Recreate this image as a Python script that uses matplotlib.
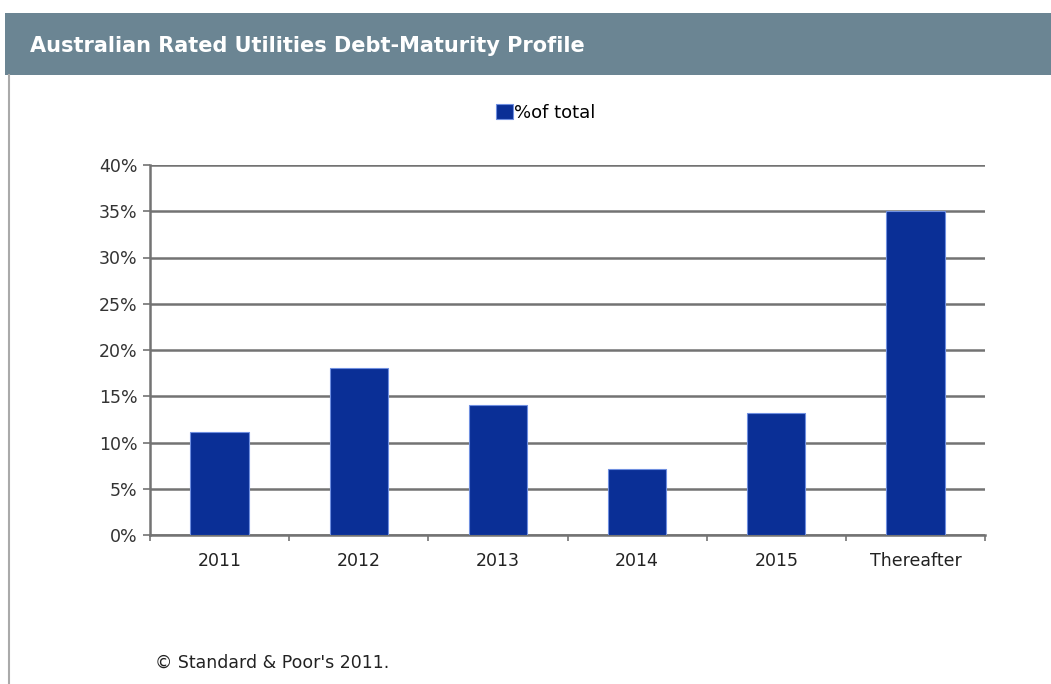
import matplotlib.pyplot as plt
from matplotlib.patches import Rectangle
import numpy as np

# --- Datos ---
categorias = ["2011", "2012", "2013", "2014", "2015", "Thereafter"]
pct_total = [11.1, 18.1, 14.1, 7.1, 13.2, 35.0]
ticks_y = [0, 5, 10, 15, 20, 25, 30, 35, 40]

W, H = 1051, 684
fuente = "DejaVu Sans"
fig = plt.figure(figsize=(W / 100, H / 100), dpi=100)
fig.patch.set_facecolor("white")

# --- Cabecera gris ---
fig.patches.append(Rectangle((5 / W, 1 - 75 / H), 1, 62 / H, transform=fig.transFigure,
                             facecolor="#6b8593", edgecolor="none", zorder=0))
fig.text(30 / W, 1 - 46 / H, "Australian Rated Utilities Debt-Maturity Profile",
         color="white", fontsize=15, fontweight="bold", va="center", ha="left",
         family=fuente)
# borde izquierdo
fig.add_artist(plt.Line2D([9 / W, 9 / W], [0, 1 - 75 / H], transform=fig.transFigure,
                          color="#aaaaaa", lw=1.5))

# --- Ejes ---
ax = fig.add_axes([150 / W, 1 - 535 / H, (985 - 150) / W, (535 - 165) / H])
x = np.arange(len(categorias))
ax.bar(x, pct_total, width=0.42, color="#0a2f96", edgecolor="#6f8fe0", linewidth=0.8,
       label="%of total", zorder=3)

ax.set_xlim(-0.5, len(categorias) - 0.5)
ax.set_ylim(0, 40)
ax.set_yticks(ticks_y)
ax.set_yticklabels([f"{t}%" for t in ticks_y], fontsize=12.5, color="#333333",
                   family=fuente)
ax.yaxis.grid(True, color="#737373", lw=1.8, zorder=0)
ax.set_xticks(x)
ax.set_xticklabels(categorias, fontsize=12.5, color="#222222", family=fuente)
ax.set_xticks(np.arange(-0.5, len(categorias)), minor=True)
ax.tick_params(axis="x", which="major", length=0, pad=12)
ax.tick_params(axis="x", which="minor", length=4, color="#737373", width=1.2)
ax.tick_params(axis="y", length=5, color="#737373", width=1.2, pad=4)
for lado in ["top", "right"]:
    ax.spines[lado].set_visible(False)
ax.spines["left"].set_color("#737373")
ax.spines["left"].set_linewidth(1.8)
ax.spines["bottom"].set_color("#737373")
ax.spines["bottom"].set_linewidth(1.8)

# --- Leyenda ---
leg = fig.legend(loc="center", bbox_to_anchor=(546 / W, 1 - 113 / H), frameon=False,
                 handlelength=0.9, handleheight=0.9, handletextpad=0.1,
                 prop={"family": fuente, "size": 13})

# --- Fuente ---
fig.text(155 / W, 1 - 663 / H, "© Standard & Poor's 2011.", fontsize=12.5, color="#222222",
         va="center", ha="left", family=fuente)

plt.savefig("out.png", dpi=100)
